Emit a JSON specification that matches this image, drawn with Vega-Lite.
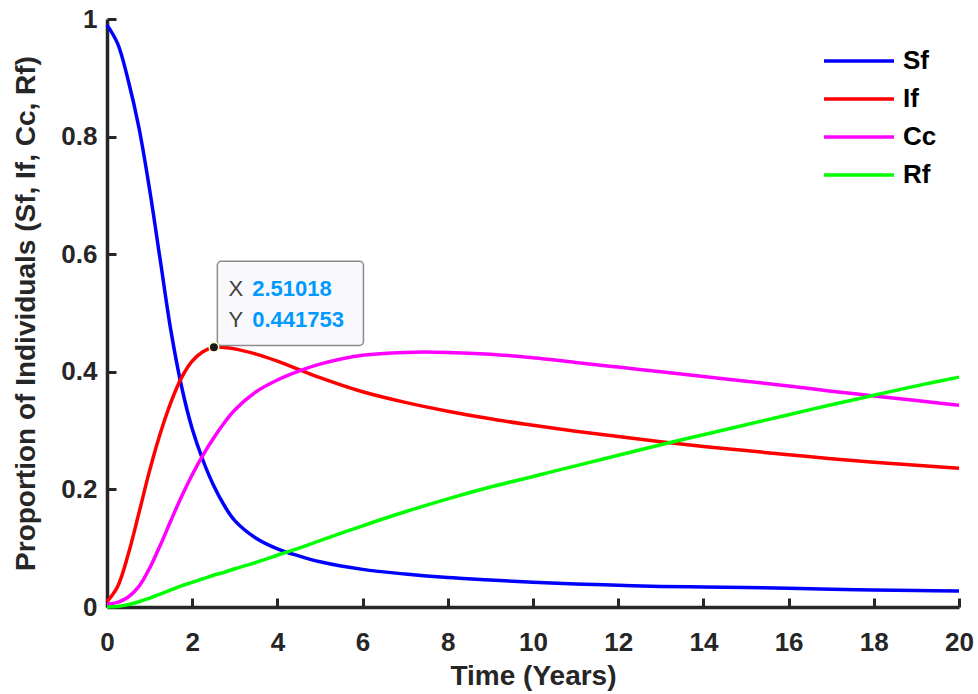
{
  "$schema": "https://vega.github.io/schema/vega-lite/v6.json",
  "width": 852,
  "height": 588,
  "autosize": {"type": "none"},
  "padding": {"left": 107, "top": 19, "right": 19, "bottom": 87},
  "background": "white",
  "config": {
    "view": {"stroke": null},
    "font": "Liberation Sans",
    "axis": {
      "grid": false,
      "domainColor": "#262626",
      "domainWidth": 3.5,
      "tickColor": "#262626",
      "tickWidth": 3,
      "tickSize": -9,
      "labelFlush": false,
      "labelFont": "Liberation Sans",
      "labelFontWeight": "bold",
      "labelFontSize": 26,
      "labelColor": "#262626",
      "titleFont": "Liberation Sans",
      "titleFontWeight": "bold",
      "titleFontSize": 28,
      "titleColor": "#262626"
    }
  },
  "datasets": {
    "series": [
      {"t": 0, "S": 0.99, "I": 0.009, "Cc": 0.005, "R": 0.0},
      {"t": 0.25, "S": 0.958, "I": 0.035, "Cc": 0.008, "R": 0.001},
      {"t": 0.5, "S": 0.895, "I": 0.09, "Cc": 0.017, "R": 0.004},
      {"t": 0.75, "S": 0.815, "I": 0.16, "Cc": 0.035, "R": 0.009},
      {"t": 1, "S": 0.71, "I": 0.232, "Cc": 0.066, "R": 0.015},
      {"t": 1.25, "S": 0.59, "I": 0.295, "Cc": 0.105, "R": 0.022},
      {"t": 1.5, "S": 0.47, "I": 0.348, "Cc": 0.147, "R": 0.029},
      {"t": 1.75, "S": 0.375, "I": 0.39, "Cc": 0.188, "R": 0.036},
      {"t": 2, "S": 0.303, "I": 0.418, "Cc": 0.225, "R": 0.042},
      {"t": 2.25, "S": 0.25, "I": 0.434, "Cc": 0.258, "R": 0.048},
      {"t": 2.5, "S": 0.207, "I": 0.4417, "Cc": 0.287, "R": 0.054},
      {"t": 2.75, "S": 0.173, "I": 0.4415, "Cc": 0.313, "R": 0.059},
      {"t": 3, "S": 0.147, "I": 0.439, "Cc": 0.335, "R": 0.065},
      {"t": 3.5, "S": 0.117, "I": 0.43, "Cc": 0.366, "R": 0.076},
      {"t": 4, "S": 0.099, "I": 0.418, "Cc": 0.386, "R": 0.088},
      {"t": 4.5, "S": 0.087, "I": 0.404, "Cc": 0.401, "R": 0.1},
      {"t": 5, "S": 0.077, "I": 0.39, "Cc": 0.413, "R": 0.113},
      {"t": 6, "S": 0.064, "I": 0.366, "Cc": 0.428, "R": 0.138},
      {"t": 7, "S": 0.056, "I": 0.348, "Cc": 0.433, "R": 0.162},
      {"t": 8, "S": 0.05, "I": 0.333, "Cc": 0.433, "R": 0.184},
      {"t": 9, "S": 0.046, "I": 0.32, "Cc": 0.43, "R": 0.204},
      {"t": 10, "S": 0.042, "I": 0.309, "Cc": 0.424, "R": 0.222},
      {"t": 11, "S": 0.039, "I": 0.299, "Cc": 0.416, "R": 0.24},
      {"t": 12, "S": 0.037, "I": 0.29, "Cc": 0.408, "R": 0.258},
      {"t": 13, "S": 0.035, "I": 0.281, "Cc": 0.4, "R": 0.276},
      {"t": 14, "S": 0.034, "I": 0.273, "Cc": 0.392, "R": 0.293},
      {"t": 15, "S": 0.033, "I": 0.266, "Cc": 0.384, "R": 0.31},
      {"t": 16, "S": 0.032, "I": 0.259, "Cc": 0.376, "R": 0.327},
      {"t": 17, "S": 0.03, "I": 0.252, "Cc": 0.367, "R": 0.344},
      {"t": 18, "S": 0.029, "I": 0.246, "Cc": 0.359, "R": 0.36},
      {"t": 19, "S": 0.028, "I": 0.241, "Cc": 0.351, "R": 0.376},
      {"t": 20, "S": 0.027, "I": 0.236, "Cc": 0.343, "R": 0.391}
    ],
    "tip": [{"t": 2.51018, "v": 0.441753}]
  },
  "layer": [
    {
      "data": {"name": "series"},
      "transform": [
        {"fold": ["S", "I", "Cc", "R"], "as": ["key", "value"]}
      ],
      "mark": {"type": "line", "strokeWidth": 3.5, "interpolate": "catmull-rom"},
      "encoding": {
        "x": {
          "field": "t", "type": "quantitative",
          "scale": {"domain": [0, 20], "nice": false},
          "axis": {"values": [0, 2, 4, 6, 8, 10, 12, 14, 16, 18, 20], "title": "Time (Years)", "labelPadding": 31, "titlePadding": 7}
        },
        "y": {
          "field": "value", "type": "quantitative",
          "scale": {"domain": [0, 1], "nice": false},
          "axis": {"values": [0, 0.2, 0.4, 0.6, 0.8, 1], "format": ".1~f", "title": "Proportion of Individuals (Sf, If, Cc, Rf)", "labelPadding": 19, "titlePadding": 20}
        },
        "color": {
          "field": "key", "type": "nominal",
          "scale": {"domain": ["S", "I", "Cc", "R"], "range": ["#0000ff", "#ff0000", "#ff00ff", "#00ff00"]},
          "legend": {
            "title": null,
            "orient": "none",
            "legendX": 714,
            "legendY": 29,
            "padding": 0,
            "symbolType": "M-1,0H6",
            "symbolSize": 400,
            "symbolStrokeWidth": 3.5,
            "labelOffset": 56,
            "labelFont": "Liberation Sans",
            "labelFontWeight": "bold",
            "labelFontSize": 26,
            "labelColor": "#000000",
            "rowPadding": 12,
            "labelExpr": "datum.value == 'S' ? 'Sf' : datum.value == 'I' ? 'If' : datum.value == 'R' ? 'Rf' : 'Cc'"
          }
        }
      }
    },
    {
      "data": {"name": "tip"},
      "mark": {"type": "rect", "fill": "#f9f9fd", "stroke": "#8c8c8c", "strokeWidth": 1.5, "cornerRadius": 4},
      "encoding": {
        "x": {"datum": 2.59, "type": "quantitative"},
        "x2": {"datum": 6.02},
        "y": {"datum": 0.588, "type": "quantitative"},
        "y2": {"datum": 0.4447}
      }
    },
    {
      "data": {"name": "tip"},
      "mark": {"type": "text", "align": "left", "baseline": "middle", "fontSize": 22, "color": "#404040", "font": "Liberation Sans"},
      "encoding": {
        "x": {"datum": 2.85, "type": "quantitative"},
        "y": {"datum": 0.5413, "type": "quantitative"},
        "text": {"value": "X"}
      }
    },
    {
      "data": {"name": "tip"},
      "mark": {"type": "text", "align": "left", "baseline": "middle", "fontSize": 22, "color": "#404040", "font": "Liberation Sans"},
      "encoding": {
        "x": {"datum": 2.85, "type": "quantitative"},
        "y": {"datum": 0.4886, "type": "quantitative"},
        "text": {"value": "Y"}
      }
    },
    {
      "data": {"name": "tip"},
      "mark": {"type": "text", "align": "left", "baseline": "middle", "fontSize": 22, "fontWeight": "bold", "color": "#0099ff", "font": "Liberation Sans"},
      "encoding": {
        "x": {"datum": 3.41, "type": "quantitative"},
        "y": {"datum": 0.5413, "type": "quantitative"},
        "text": {"field": "t", "type": "quantitative", "format": ".6"}
      }
    },
    {
      "data": {"name": "tip"},
      "mark": {"type": "text", "align": "left", "baseline": "middle", "fontSize": 22, "fontWeight": "bold", "color": "#0099ff", "font": "Liberation Sans"},
      "encoding": {
        "x": {"datum": 3.41, "type": "quantitative"},
        "y": {"datum": 0.4886, "type": "quantitative"},
        "text": {"field": "v", "type": "quantitative", "format": ".6"}
      }
    },
    {
      "data": {"name": "tip"},
      "mark": {"type": "point", "filled": true, "fill": "#1a1a1a", "stroke": "#ffffcc", "strokeWidth": 1.5, "size": 90, "opacity": 1},
      "encoding": {
        "x": {"field": "t", "type": "quantitative"},
        "y": {"field": "v", "type": "quantitative"}
      }
    }
  ]
}
